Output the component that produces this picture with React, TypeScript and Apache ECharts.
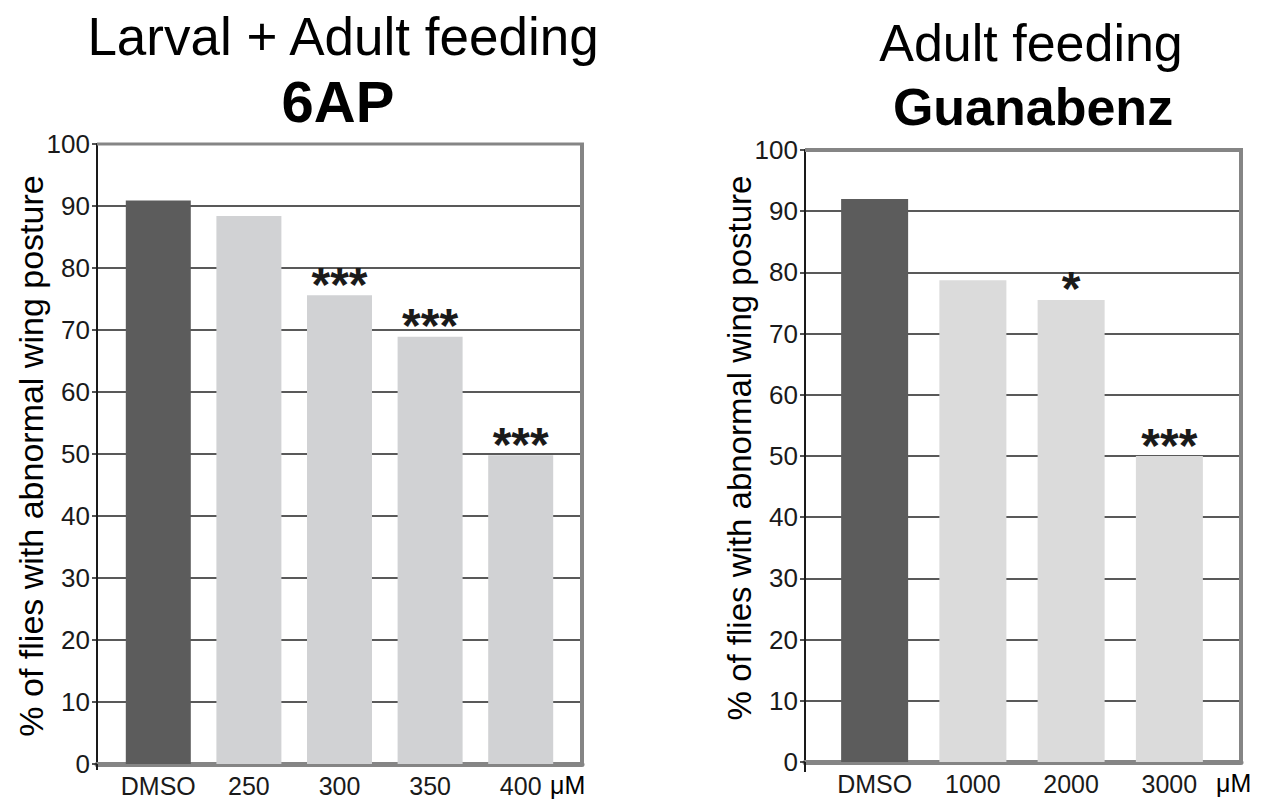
import React, { useEffect, useRef } from "react";
import * as echarts from "echarts";

const FONT = "'Liberation Sans', Arial, Helvetica, sans-serif";

const leftTitle = "Larval + Adult feeding";
const leftDrug = "6AP";
const leftCats = ["DMSO", "250", "300", "350", "400"];
const leftValues = [90.9, 88.4, 75.6, 68.9, 49.8];
const leftStars = ["", "", "***", "***", "***"];

const rightTitle = "Adult feeding";
const rightDrug = "Guanabenz";
const rightCats = ["DMSO", "1000", "2000", "3000"];
const rightValues = [92, 78.7, 75.5, 50];
const rightStars = ["", "", "*", "***"];

const yAxisTitle = "% of flies with abnormal wing posture";
const unitLabel = "μM";

const DARK = "#5c5c5c";
const LIGHT_L = "#d1d2d4";
const LIGHT_R = "#dbdbdb";
const INK = "#1a1a1a";
const FRAME = "#858585";

function valueAxis(gridIndex: number, visible: boolean) {
  if (!visible) {
    return { gridIndex, type: "value", min: 0, max: 100, interval: 10, show: false };
  }
  return {
    gridIndex,
    type: "value",
    min: 0,
    max: 100,
    interval: 10,
    axisLine: { show: true, lineStyle: { color: INK, width: 2 } },
    axisTick: { show: true, length: 5, lineStyle: { color: INK, width: 1.5 } },
    axisLabel: { fontSize: 26, color: INK, margin: 7, fontFamily: FONT },
    splitLine: { show: true, lineStyle: { color: "#222", width: 1.5 } },
  };
}

function frameAxis(gridIndex: number) {
  return {
    gridIndex,
    type: "value",
    min: 0,
    max: 1,
    axisLine: { show: true, onZero: false, lineStyle: { color: FRAME, width: 5 } },
    axisTick: { show: false },
    axisLabel: { show: false },
    splitLine: { show: false },
  };
}

function catAxis(gridIndex: number, cats: string[]) {
  return {
    gridIndex,
    type: "category",
    data: cats,
    axisLine: { show: false },
    axisTick: { show: false },
    axisLabel: { fontSize: 25, color: INK, margin: 9, fontFamily: FONT, interval: 0 },
  };
}

function barSeries(axisIndex: number, values: number[], stars: string[], light: string, width: number) {
  return {
    type: "bar",
    xAxisIndex: axisIndex,
    yAxisIndex: axisIndex,
    barWidth: width,
    data: values.map((v, i) => ({ value: v, itemStyle: { color: i === 0 ? DARK : light } })),
    label: {
      show: true,
      position: "top",
      distance: -13,
      formatter: (p: any) => stars[p.dataIndex],
      fontSize: 48,
      fontWeight: "bold",
      color: INK,
      fontFamily: FONT,
    },
  };
}

function text(x: number, y: number, t: string, size: number, bold = false, extra: any = {}) {
  return {
    type: "text",
    x,
    y,
    z: 100,
    ...extra,
    style: {
      text: t,
      fontSize: size,
      fontWeight: bold ? "bold" : "normal",
      fontFamily: FONT,
      fill: "#000",
      align: extra.align || "center",
      verticalAlign: "middle",
    },
  };
}

function line(x1: number, y1: number, x2: number, y2: number, w: number, color = FRAME) {
  return { type: "line", z: 100, shape: { x1, y1, x2, y2 }, style: { stroke: color, lineWidth: w } };
}

export default function App() {
  const ref = useRef<HTMLDivElement>(null);
  useEffect(() => {
    if (!ref.current) return;
    const chart = echarts.init(ref.current, null, { renderer: "svg" });
    chart.setOption({
      animation: false,
      backgroundColor: "#fff",
      grid: [
        { left: 97, top: 144, width: 485, height: 620 },
        { left: 113, top: 144, width: 453, height: 620 },
        { left: 805, top: 150, width: 436, height: 612 },
        { left: 825.5, top: 150, width: 393, height: 612 },
      ],
      xAxis: [frameAxis(0), catAxis(1, leftCats), frameAxis(2), catAxis(3, rightCats)],
      yAxis: [valueAxis(0, true), valueAxis(1, false), valueAxis(2, true), valueAxis(3, false)],
      series: [
        barSeries(1, leftValues, leftStars, LIGHT_L, 65),
        barSeries(3, rightValues, rightStars, LIGHT_R, 67),
      ],
      graphic: [
        line(97, 144, 584, 144, 3),
        line(582, 143, 582, 766, 4),
        line(805, 150, 1243, 150, 4),
        line(1241, 148, 1241, 764, 4),
        line(97, 764, 97, 770, 2, INK),
        line(805, 762, 805, 772, 2, INK),
        text(343, 36, leftTitle, 53),
        text(338, 101, leftDrug, 58, true),
        text(1031, 43, rightTitle, 52),
        text(1033, 107, rightDrug, 52, true),
        text(31, 456, yAxisTitle, 34, false, { rotation: Math.PI / 2 }),
        text(739, 448, yAxisTitle, 33, false, { rotation: Math.PI / 2 }),
        text(550, 785, unitLabel, 25, false, { align: "left" }),
        text(1216, 783, unitLabel, 25, false, { align: "left" }),
      ],
    });
    return () => chart.dispose();
  }, []);
  return (
    <div
      ref={ref}
      style={{ position: "absolute", left: 0, top: 0, width: 1263, height: 802, background: "#fff" }}
    />
  );
}
